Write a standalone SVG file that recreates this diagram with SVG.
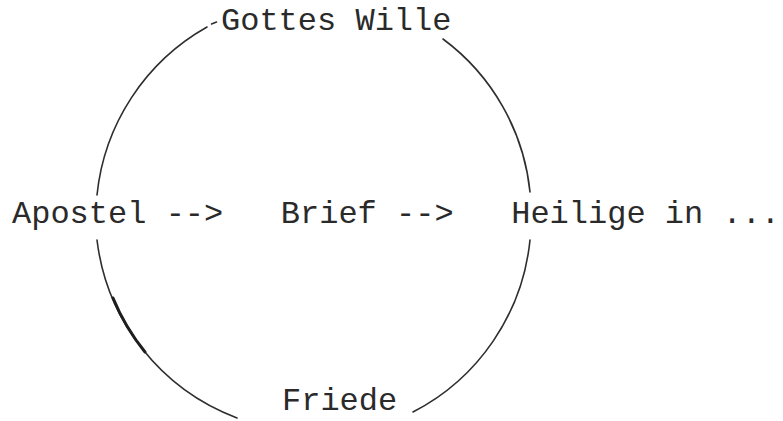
<svg xmlns="http://www.w3.org/2000/svg" width="783" height="421" viewBox="0 0 783 421">
  <style>
    .lbl { font-family: "Liberation Mono", "Courier New", monospace; font-size: 32px; fill: #2a2a2a; }
    .arc { fill: none; stroke: #2e2e2e; stroke-width: 1.6; stroke-linecap: round; }
    .thick { fill: none; stroke: #1e1e1e; stroke-width: 3; stroke-linecap: round; }
  </style>
  <rect width="783" height="421" fill="#ffffff"/>
  <g id="connectors">
    <path class="arc" d="M 97 195 A 218 218 0 0 1 207 27"/>
    <path class="arc" d="M 211.5 24 L 216.5 22"/>
    <path class="arc" d="M 443 39 A 218 218 0 0 1 530 192"/>
    <path class="arc" d="M 97 240 A 218 218 0 0 0 237 418"/>
    <path class="thick" d="M 113 298 A 218 218 0 0 0 145 352"/>
    <path class="arc" d="M 530 240 A 218 218 0 0 1 413 412"/>
  </g>
  <g id="node-gottes-wille">
    <text class="lbl" x="221" y="30">Gottes Wille</text>
  </g>
  <g id="node-apostel">
    <text class="lbl" x="12" y="223">Apostel --&gt;</text>
  </g>
  <g id="node-brief">
    <text class="lbl" x="280.8" y="223">Brief --&gt;</text>
  </g>
  <g id="node-heilige">
    <text class="lbl" x="511.2" y="223">Heilige in ...</text>
  </g>
  <g id="node-friede">
    <text class="lbl" x="282" y="410">Friede</text>
  </g>
</svg>
